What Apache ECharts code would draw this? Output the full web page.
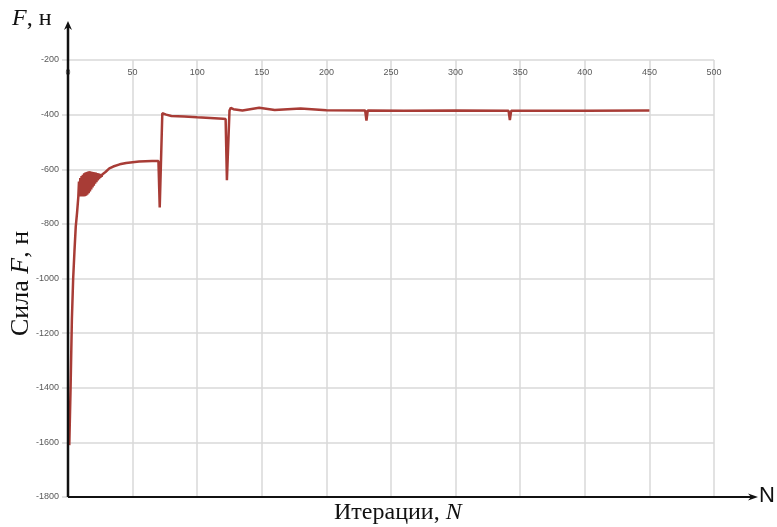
<!DOCTYPE html>
<html><head><meta charset="utf-8">
<script src="https://cdn.jsdelivr.net/npm/echarts@6/dist/echarts.min.js"></script>
<style>html,body{margin:0;padding:0;background:#fff}#c{width:777px;height:527px}</style>
</head><body><div id="c"></div>
<script>
const iterations = [1,2,3,4,5,6,7,8,8.5,9,9.5,10,10.5,11,11.5,12,12.5,13,13.5,14,14.5,15,15.5,16,16.5,17,17.5,18,18.5,19,19.5,20,20.5,21,21.5,22,22.5,23,23.5,24,24.5,25,25.5,26,26.5,27,27.5,28,29,30,32,35,40,45,50,55,60,65,70,71,73,74,76,80,90,100,110,120,122,123,125,126,128,135,148,160,180,200,230,231,232,260,300,341,342,343,400,450];
const forceN = [-1610,-1400,-1150,-1000,-900,-810,-760,-700,-645,-700,-632,-700,-625,-700,-620,-700,-615,-699,-612,-697,-610,-693,-608,-688,-607,-681,-608,-674,-609,-667,-610,-660,-611,-653,-612,-647,-614,-641,-615,-636,-617,-631,-618,-627,-619,-623,-619,-617,-610,-604,-597,-590,-582,-577,-574,-572,-571,-570,-570,-740,-395,-390,-400,-405,-407,-410,-412,-415,-416,-640,-385,-375,-380,-385,-375,-383,-378,-384,-385,-422,-385,-386,-385,-386,-420,-386,-386,-385];
const xTicks = {min:0,max:500,step:50};
const yTicks = {min:-1800,max:-200,step:200};

const chart = echarts.init(document.getElementById('c'));
const data = iterations.map((x,i)=>[x, forceN[i]]);
const L=68, T=60, R=714, B=497;
chart.setOption({
  animation:false,
  backgroundColor:'#fff',
  grid:{left:L, top:T, right:777-R, bottom:527-B},
  xAxis:{type:'value', min:xTicks.min, max:xTicks.max, interval:xTicks.step, position:'top',
    axisLine:{show:false}, axisTick:{show:false},
    axisLabel:{inside:true, margin:8, color:'#595959', fontSize:9, fontFamily:'Liberation Sans', formatter:v=>String(v)},
    splitLine:{show:true, lineStyle:{color:'#d9d9d9', width:1.5}}},
  yAxis:{type:'value', min:yTicks.min, max:yTicks.max, interval:yTicks.step,
    axisLine:{show:false}, axisTick:{show:true, length:6, lineStyle:{color:'#d9d9d9', width:1.5}},
    axisLabel:{margin:9, color:'#595959', fontSize:9, fontFamily:'Liberation Sans', formatter:v=>String(v)},
    splitLine:{show:true, lineStyle:{color:'#d9d9d9', width:1.5}}},
  series:[{type:'line', data:data, symbol:'none', lineStyle:{color:'#a83c36', width:2.5}, z:5}],
  graphic:[
    {type:'line', shape:{x1:L, y1:B, x2:L, y2:26}, style:{stroke:'#111', lineWidth:2.5}, z:10},
    {type:'polygon', shape:{points:[[L-4,30],[L,21],[L+4,30],[L,27]]}, style:{fill:'#111'}, z:10},
    {type:'line', shape:{x1:L, y1:B, x2:752, y2:B}, style:{stroke:'#111', lineWidth:2}, z:10},
    {type:'polygon', shape:{points:[[748,B-3.5],[758,B],[748,B+3.5],[751,B]]}, style:{fill:'#111'}, z:10},
    {type:'text', left:759, top:485, style:{text:'N', font:'22px "Liberation Sans"', fill:'#111'}},
    {type:'text', left:334, top:501, style:{text:'Итерации, {i|N}', font:'24px "Liberation Serif"', fill:'#111',
      rich:{i:{fontStyle:'italic', fontSize:24, fontFamily:'Liberation Serif'}}}},
    {type:'text', left:12, top:7, style:{text:'{i|F}, н', font:'24px "Liberation Serif"', fill:'#111',
      rich:{i:{fontStyle:'italic', fontSize:24, fontFamily:'Liberation Serif'}}}},
    {type:'text', x:8, y:336, rotation:Math.PI/2, style:{text:'Сила {i|F}, н', font:'26px "Liberation Serif"', fill:'#111',
      rich:{i:{fontStyle:'italic', fontSize:26, fontFamily:'Liberation Serif'}}}}
  ]
});
</script></body></html>
